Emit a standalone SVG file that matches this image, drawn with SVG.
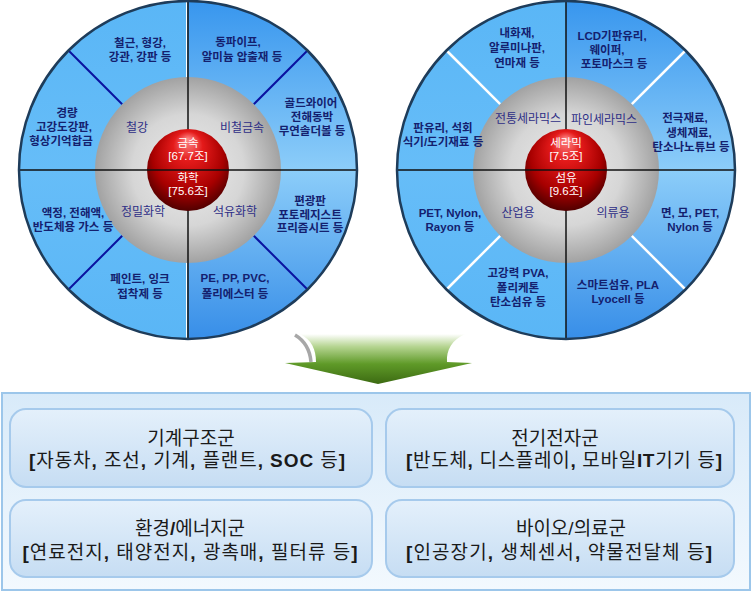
<svg xmlns="http://www.w3.org/2000/svg" width="754" height="593" viewBox="0 0 754 593">
<defs>
<style>
text{font-family:"Liberation Sans","Noto Sans CJK KR",sans-serif;text-anchor:middle;dominant-baseline:central}
.o{font-size:11.5px;font-weight:bold;fill:#14206e}
.i{font-size:12px;fill:#2e2e86}
.s{font-size:11.5px;fill:#ffffff}
.bt{font-size:19px;fill:#1a1a1a}
.b{font-weight:bold}
.div{stroke:#111;stroke-width:1.5}
.rim{fill:none;stroke:#1e3c5a;stroke-width:2.5}
.dl{stroke:#0a12a0;stroke-width:2}
.wl{stroke:#ffffff;stroke-width:2.5}
.box{fill:url(#boxg);stroke:#a6caec;stroke-width:2}
</style>
<linearGradient id="rhalf" x1="0" y1="1" x2="0" y2="339" gradientUnits="userSpaceOnUse">
<stop offset="0" stop-color="#3896ee"/>
<stop offset="0.5" stop-color="#8ccdf9"/>
<stop offset="1" stop-color="#378ee8"/>
</linearGradient>
<linearGradient id="lhalf" x1="0" y1="1" x2="0" y2="339" gradientUnits="userSpaceOnUse">
<stop offset="0" stop-color="#5ab6f6"/>
<stop offset="0.5" stop-color="#66bdf8"/>
<stop offset="1" stop-color="#5ab6f6"/>
</linearGradient>
<radialGradient id="grey" cx="0.5" cy="0.5" r="0.5">
<stop offset="0" stop-color="#ececec"/>
<stop offset="0.6" stop-color="#d6d6d6"/>
<stop offset="1" stop-color="#a2a2a2"/>
</radialGradient>
<radialGradient id="ball" cx="0.5" cy="0.42" r="0.6" fx="0.5" fy="0.12">
<stop offset="0" stop-color="#ff8a8a"/>
<stop offset="0.3" stop-color="#e41a1a"/>
<stop offset="0.72" stop-color="#a80000"/>
<stop offset="1" stop-color="#4a0000"/>
</radialGradient>
<linearGradient id="arrowg" x1="0" y1="334" x2="0" y2="384" gradientUnits="userSpaceOnUse">
<stop offset="0" stop-color="#ffffff"/>
<stop offset="0.25" stop-color="#b6d592"/>
<stop offset="0.6" stop-color="#5f9a28"/>
<stop offset="1" stop-color="#3c6a12"/>
</linearGradient>
<linearGradient id="panelg" x1="0" y1="0" x2="0" y2="1">
<stop offset="0" stop-color="#d8eaf9"/>
<stop offset="1" stop-color="#f3f9fe"/>
</linearGradient>
<linearGradient id="boxg" x1="0" y1="0" x2="0" y2="1">
<stop offset="0" stop-color="#e4f0fb"/>
<stop offset="1" stop-color="#c6ddf3"/>
</linearGradient>
</defs>

<g id="wheel-metal-chem">
<path d="M188,1 A169,169 0 0 0 188,339 Z" fill="url(#lhalf)"/>
<path d="M188,1 A169,169 0 0 1 188,339 Z" fill="url(#rhalf)"/>
<line x1="186.5" y1="1" x2="186.5" y2="339" stroke="#ffffff" stroke-width="1"/>
<line class="dl" x1="122.2" y1="104.2" x2="68.5" y2="50.5"/>
<line class="dl" x1="253.8" y1="104.2" x2="307.5" y2="50.5"/>
<line class="dl" x1="122.2" y1="235.8" x2="68.5" y2="289.5"/>
<line class="dl" x1="253.8" y1="235.8" x2="307.5" y2="289.5"/>
<circle cx="188" cy="170" r="93" fill="url(#grey)"/>
<line class="div" x1="188" y1="1" x2="188" y2="339"/>
<circle cx="188" cy="170" r="41" fill="url(#ball)"/>
<line class="div" x1="19" y1="170" x2="357" y2="170"/>
<circle class="rim" cx="188" cy="170" r="169"/>
<g id="metal-core"><text class="s"><tspan x="188" y="143">금속</tspan><tspan x="188" y="156">[67.7조]</tspan></text></g>
<g id="chem-core"><text class="s"><tspan x="188" y="178">화학</tspan><tspan x="188" y="191">[75.6조]</tspan></text></g>
<g id="steel"><text class="i" x="137" y="128">철강</text></g>
<g id="nonferrous"><text class="i" x="242" y="128">비철금속</text></g>
<g id="fine-chem"><text class="i" x="143" y="212">정밀화학</text></g>
<g id="petro-chem"><text class="i" x="235" y="212">석유화학</text></g>
<g id="steel-a"><text class="o"><tspan x="140" y="43">철근, 형강,</tspan><tspan x="140" y="57">강관, 강판 등</tspan></text></g>
<g id="steel-b"><text class="o"><tspan x="67" y="113">경량</tspan><tspan x="64" y="127">고강도강판,</tspan><tspan x="61" y="141">형상기억합금</tspan></text></g>
<g id="nonferrous-a"><text class="o"><tspan x="238" y="42">동파이프,</tspan><tspan x="242" y="57">알미늄 압출재 등</tspan></text></g>
<g id="nonferrous-b"><text class="o"><tspan x="311" y="103">골드와이어</tspan><tspan x="312" y="117">전해동박</tspan><tspan x="312" y="131">무연솔더볼 등</tspan></text></g>
<g id="fine-chem-a"><text class="o"><tspan x="73" y="213">액정, 전해액,</tspan><tspan x="73" y="227">반도체용 가스 등</tspan></text></g>
<g id="fine-chem-b"><text class="o"><tspan x="140" y="279">페인트, 잉크</tspan><tspan x="140" y="294">접착제 등</tspan></text></g>
<g id="petro-chem-a"><text class="o"><tspan x="310" y="201">편광판</tspan><tspan x="310" y="214.5">포토레지스트</tspan><tspan x="310" y="228">프리즘시트 등</tspan></text></g>
<g id="petro-chem-b"><text class="o"><tspan x="235" y="278">PE, PP, PVC,</tspan><tspan x="235" y="294">폴리에스터 등</tspan></text></g>
</g>

<g id="wheel-ceramic-fiber">
<path d="M566,1 A169,169 0 0 0 566,339 Z" fill="url(#lhalf)"/>
<path d="M566,1 A169,169 0 0 1 566,339 Z" fill="url(#rhalf)"/>
<line class="wl" x1="500.2" y1="104.2" x2="446.5" y2="50.5"/>
<line class="wl" x1="631.8" y1="104.2" x2="685.5" y2="50.5"/>
<line class="wl" x1="500.2" y1="235.8" x2="446.5" y2="289.5"/>
<line class="wl" x1="631.8" y1="235.8" x2="685.5" y2="289.5"/>
<circle cx="566" cy="170" r="93" fill="url(#grey)"/>
<line class="div" x1="566" y1="1" x2="566" y2="339"/>
<circle cx="566" cy="170" r="41" fill="url(#ball)"/>
<line class="div" x1="397" y1="170" x2="735" y2="170"/>
<circle class="rim" cx="566" cy="170" r="169"/>
<g id="ceramic-core"><text class="s"><tspan x="566" y="143">세라믹</tspan><tspan x="566" y="156">[7.5조]</tspan></text></g>
<g id="fiber-core"><text class="s"><tspan x="566" y="178">섬유</tspan><tspan x="566" y="191">[9.6조]</tspan></text></g>
<g id="trad-ceramic"><text class="i" x="528" y="119">전통세라믹스</text></g>
<g id="fine-ceramic"><text class="i" x="604" y="120">파인세라믹스</text></g>
<g id="industrial"><text class="i" x="518" y="213">산업용</text></g>
<g id="clothing"><text class="i" x="613" y="213">의류용</text></g>
<g id="trad-ceramic-a"><text class="o"><tspan x="517" y="33">내화재,</tspan><tspan x="517" y="48">알루미나판,</tspan><tspan x="517" y="63">연마재 등</tspan></text></g>
<g id="trad-ceramic-b"><text class="o"><tspan x="443" y="128">판유리, 석회</tspan><tspan x="443" y="141.5">식기/도기재료 등</tspan></text></g>
<g id="fine-ceramic-a"><text class="o"><tspan x="612" y="36">LCD기판유리,</tspan><tspan x="607" y="50">웨이퍼,</tspan><tspan x="614" y="64">포토마스크 등</tspan></text></g>
<g id="fine-ceramic-b"><text class="o"><tspan x="685" y="118">전극재료,</tspan><tspan x="689" y="133">생체재료,</tspan><tspan x="691" y="147">탄소나노튜브 등</tspan></text></g>
<g id="industrial-a"><text class="o"><tspan x="450" y="213">PET, Nylon,</tspan><tspan x="450" y="227">Rayon 등</tspan></text></g>
<g id="industrial-b"><text class="o"><tspan x="518" y="273">고강력 PVA,</tspan><tspan x="518" y="288">폴리케톤</tspan><tspan x="518" y="302">탄소섬유 등</tspan></text></g>
<g id="clothing-a"><text class="o"><tspan x="690" y="213">면, 모, PET,</tspan><tspan x="690" y="227">Nylon 등</tspan></text></g>
<g id="clothing-b"><text class="o"><tspan x="618" y="285">스마트섬유, PLA</tspan><tspan x="618" y="299">Lyocell 등</tspan></text></g>
</g>

<g id="connectors">
<path d="M295,335 C305,341 310,350 311,362" fill="none" stroke="#8a8a8a" stroke-width="3.5" opacity="0.75"/>
<path d="M300,334 L465,334 C452,340 446,350 447,362 L472,363 L378,384 L285,363 L316,362 C316,350 312,340 300,334 Z" fill="url(#arrowg)"/>
</g>

<g id="panel">
<rect x="2" y="393" width="748" height="197" fill="url(#panelg)" stroke="#9cc6ea" stroke-width="2"/>
</g>
<g id="mechanical">
<rect class="box" x="10" y="409" width="362" height="78" rx="16"/>
<text class="bt"><tspan x="191" y="438">기계구조군</tspan><tspan x="187" y="460" textLength="316" lengthAdjust="spacing"><tspan class="b">[</tspan>자동차<tspan class="b">,</tspan> 조선<tspan class="b">,</tspan> 기계<tspan class="b">,</tspan> 플랜트<tspan class="b">, SOC</tspan> 등<tspan class="b">]</tspan></tspan></text>
</g>
<g id="energy">
<rect class="box" x="10" y="500" width="362" height="77" rx="16"/>
<text class="bt"><tspan x="190" y="528">환경<tspan class="b">/</tspan>에너지군</tspan><tspan x="190" y="552" textLength="335" lengthAdjust="spacing"><tspan class="b">[</tspan>연료전지<tspan class="b">,</tspan> 태양전지<tspan class="b">,</tspan> 광촉매<tspan class="b">,</tspan> 필터류 등<tspan class="b">]</tspan></tspan></text>
</g>
<g id="electronics">
<rect class="box" x="386" y="409" width="348" height="78" rx="16"/>
<text class="bt"><tspan x="555" y="438">전기전자군</tspan><tspan x="564" y="460" textLength="316" lengthAdjust="spacing"><tspan class="b">[</tspan>반도체<tspan class="b">,</tspan> 디스플레이<tspan class="b">,</tspan> 모바일<tspan class="b">IT</tspan>기기 등<tspan class="b">]</tspan></tspan></text>
</g>
<g id="bio-medical">
<rect class="box" x="386" y="500" width="348" height="77" rx="16"/>
<text class="bt"><tspan x="571" y="528">바이오/의료군</tspan><tspan x="559" y="552" textLength="306" lengthAdjust="spacing"><tspan class="b">[</tspan>인공장기<tspan class="b">,</tspan> 생체센서<tspan class="b">,</tspan> 약물전달체 등<tspan class="b">]</tspan></tspan></text>
</g>
</svg>
